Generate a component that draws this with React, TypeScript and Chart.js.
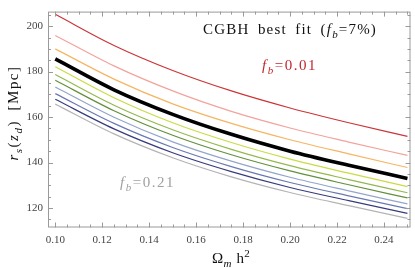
import React, { useEffect, useRef } from "react";
import { Chart, registerables } from "chart.js";

Chart.register(...registerables);

// Ω_m h² sample points
const omegaMh2 = [0.1, 0.125, 0.15, 0.175, 0.2, 0.225, 0.25];

// r_s(z_d) [Mpc] for each baryon fraction f_b
const fb01 = [205.2, 191.5, 180.5, 171.5, 164.0, 157.5, 151.5];
const fb03 = [195.9, 182.5, 171.5, 162.5, 155.2, 149.0, 143.1];
const fb05 = [190.0, 176.7, 165.8, 157.2, 150.0, 143.8, 137.8];
const fb07 = [185.6, 172.0, 161.2, 152.4, 145.0, 138.8, 133.0];
const fb09 = [182.1, 168.5, 157.5, 148.8, 141.5, 135.3, 129.4];
const fb11 = [178.7, 165.2, 154.4, 145.8, 138.6, 132.5, 126.7];
const fb13 = [176.2, 162.8, 152.0, 143.4, 136.3, 130.2, 124.4];
const fb15 = [173.2, 159.9, 149.1, 140.6, 133.5, 127.5, 121.8];
const fb17 = [170.3, 157.2, 146.6, 138.2, 131.2, 125.3, 119.7];
const fb19 = [167.8, 154.8, 144.3, 136.0, 129.0, 123.2, 117.6];
const fb21 = [165.7, 152.6, 142.1, 133.7, 126.8, 121.0, 115.4];

const seriesLabels = ["f_b=0.01", "f_b=0.03", "f_b=0.05", "f_b=0.07", "f_b=0.09", "f_b=0.11", "f_b=0.13", "f_b=0.15", "f_b=0.17", "f_b=0.19", "f_b=0.21"];
const seriesValues = [fb01, fb03, fb05, fb07, fb09, fb11, fb13, fb15, fb17, fb19, fb21];

const xMajorTicks = [0.1, 0.12, 0.14, 0.16, 0.18, 0.2, 0.22, 0.24];
const yMajorTicks = [120, 140, 160, 180, 200];

// styles
const lineColors = ["#cc3538", "#f2a39b", "#f6b563", "#000000", "#cadb47", "#93b94f", "#62903f", "#93a6cb", "#6b79b3", "#383c7d", "#b4b4b4"];
const lineWidths = [1.2, 1.2, 1.2, 3.6, 1.2, 1.2, 1.2, 1.2, 1.2, 1.2, 1.2];

const SERIF = "'Liberation Serif', 'Times New Roman', serif";

type Seg = { t: string; it?: boolean; sub?: boolean; sup?: boolean };

function segFont(s: Seg, size: number) {
  const sz = s.sub || s.sup ? Math.round(size * 0.72) : size;
  return `${s.it ? "italic " : ""}${sz}px ${SERIF}`;
}

function measure(ctx: CanvasRenderingContext2D, segs: Seg[], size: number) {
  let w = 0;
  let units = 0;
  for (const s of segs) {
    ctx.font = segFont(s, size);
    for (const ch of s.t) {
      w += ctx.measureText(ch).width;
      units += ch === " " ? 4 : 1;
    }
  }
  return { w, units };
}

function drawRich(
  ctx: CanvasRenderingContext2D,
  segs: Seg[],
  x: number,
  y: number,
  size: number,
  color: string,
  target: number,
  align: "left" | "center"
) {
  const { w, units } = measure(ctx, segs, size);
  const unit = units > 0 ? (target - w) / units : 0;
  let cx = align === "center" ? x - target / 2 : x;
  ctx.fillStyle = color;
  ctx.textBaseline = "alphabetic";
  ctx.textAlign = "left";
  for (const s of segs) {
    ctx.font = segFont(s, size);
    const dy = s.sub ? size * 0.28 : s.sup ? -size * 0.38 : 0;
    for (const ch of s.t) {
      ctx.fillText(ch, cx, y + dy);
      cx += ctx.measureText(ch).width + unit * (ch === " " ? 4 : 1);
    }
  }
}

const framePlugin = {
  id: "framePlugin",
  afterDatasetsDraw(chart: any) {
    const ctx: CanvasRenderingContext2D = chart.ctx;
    const { left, right, top, bottom } = chart.chartArea;
    const xs = chart.scales.x;
    const ys = chart.scales.y;
    ctx.save();
    ctx.strokeStyle = "#9a9a9a";
    ctx.lineWidth = 1;
    ctx.strokeRect(left + 0.5, top + 0.5, right - left - 1, bottom - top - 1);
    ctx.beginPath();
    for (let k = 0; k <= 32; k++) {
      const v = 0.1 + k * 0.005;
      if (v > xs.max) break;
      const px = Math.round(xs.getPixelForValue(v)) + 0.5;
      const len = k % 4 === 0 ? 5 : 3;
      ctx.moveTo(px, bottom);
      ctx.lineTo(px, bottom - len);
      ctx.moveTo(px, top);
      ctx.lineTo(px, top + len);
    }
    for (let k = 0; k <= 20; k++) {
      const v = 115 + k * 5;
      if (v > ys.max) break;
      const py = Math.round(ys.getPixelForValue(v)) + 0.5;
      const len = v % 20 === 0 ? 5 : 3;
      ctx.moveTo(left, py);
      ctx.lineTo(left + len, py);
      ctx.moveTo(right, py);
      ctx.lineTo(right - len, py);
    }
    ctx.stroke();
    ctx.restore();
  },
  afterDraw(chart: any) {
    const ctx: CanvasRenderingContext2D = chart.ctx;
    ctx.save();
    drawRich(
      ctx,
      [{ t: "CGBH best fit (" }, { t: "f", it: true }, { t: "b", it: true, sub: true }, { t: "=7%)" }],
      203, 34, 15, "#111111", 174, "left"
    );
    drawRich(
      ctx,
      [{ t: "f", it: true }, { t: "b", it: true, sub: true }, { t: "=0.01" }],
      262, 70, 15, "#c0282d", 55, "left"
    );
    drawRich(
      ctx,
      [{ t: "f", it: true }, { t: "b", it: true, sub: true }, { t: "=0.21" }],
      120, 187, 15, "#a0a0a0", 55, "left"
    );
    drawRich(
      ctx,
      [{ t: "Ω" }, { t: "m", it: true, sub: true }, { t: " h" }, { t: "2", sup: true }],
      231, 263, 15, "#111111", 38, "center"
    );
    ctx.translate(18, 113);
    ctx.rotate(-Math.PI / 2);
    drawRich(
      ctx,
      [{ t: "r", it: true }, { t: "s", it: true, sub: true }, { t: "(" }, { t: "z", it: true }, { t: "d", it: true, sub: true }, { t: ") [Mpc]" }],
      0, 0, 15, "#111111", 95, "center"
    );
    ctx.restore();
  },
};

export default function App() {
  const canvasRef = useRef<HTMLCanvasElement | null>(null);

  useEffect(() => {
    document.body.style.margin = "0";
    const canvas = canvasRef.current;
    if (!canvas) return;
    const datasets = seriesValues.map((vals, i) => ({
      label: seriesLabels[i],
      data: omegaMh2.map((x, j) => ({ x, y: vals[j] })),
      borderColor: lineColors[i],
      backgroundColor: lineColors[i],
      borderWidth: lineWidths[i],
      pointRadius: 0,
      fill: false,
      cubicInterpolationMode: "monotone" as const,
      order: i === 3 ? 0 : 1,
    }));
    const chart = new Chart(canvas, {
      type: "line",
      data: { datasets },
      options: {
        animation: false,
        responsive: false,
        maintainAspectRatio: false,
        layout: { padding: { top: 2, right: 4.5, left: 0, bottom: 0 } },
        plugins: { legend: { display: false }, tooltip: { enabled: false } },
        scales: {
          x: {
            type: "linear",
            min: 0.0969,
            max: 0.2513,
            grid: { display: false, drawTicks: false },
            border: { display: false },
            afterBuildTicks: (s: any) => {
              s.ticks = xMajorTicks.map((v) => ({ value: v }));
            },
            afterFit: (s: any) => {
              s.height = 40.5;
            },
            ticks: {
              autoSkip: false,
              maxRotation: 0,
              padding: 6,
              color: "#444444",
              font: { family: SERIF, size: 11 },
              callback: (v: any) => Number(v).toFixed(2),
            },
          },
          y: {
            type: "linear",
            min: 111.4,
            max: 206.4,
            grid: { display: false, drawTicks: false },
            border: { display: false },
            afterBuildTicks: (s: any) => {
              s.ticks = yMajorTicks.map((v) => ({ value: v }));
            },
            afterFit: (s: any) => {
              s.width = 48;
            },
            ticks: {
              autoSkip: false,
              padding: 5,
              color: "#444444",
              font: { family: SERIF, size: 11 },
              callback: (v: any) => String(v),
            },
          },
        },
      },
      plugins: [framePlugin],
    });
    return () => chart.destroy();
  }, []);

  return (
    <div style={{ width: 415, height: 268, background: "#ffffff" }}>
      <canvas ref={canvasRef} width={415} height={268} style={{ display: "block" }} />
    </div>
  );
}
